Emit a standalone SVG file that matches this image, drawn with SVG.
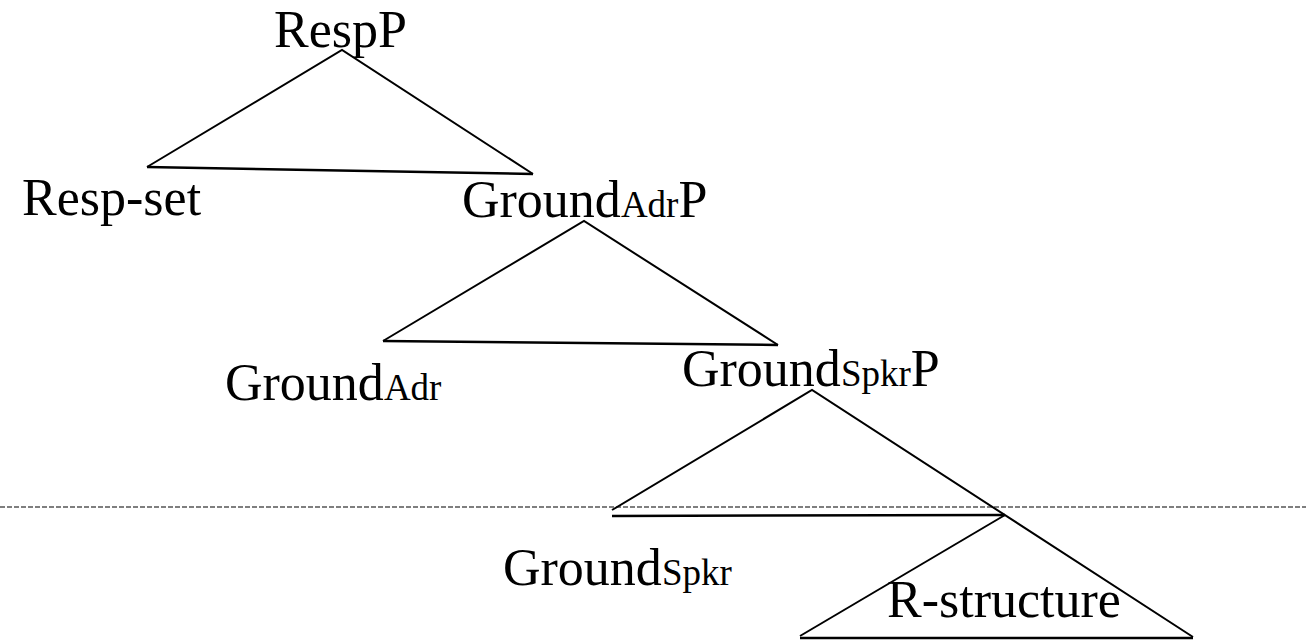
<svg xmlns="http://www.w3.org/2000/svg" width="1306" height="641" viewBox="0 0 1306 641">
<style>
text{font-family:'Liberation Serif','DejaVu Serif',serif;font-size:52px;fill:#000}
.sub{font-size:37px}
.edge{fill:none;stroke:#000;stroke-width:2;stroke-linejoin:miter}
.base{fill:none;stroke:#000;stroke-width:2.5}
.dash{stroke:#000;stroke-width:1.2;stroke-dasharray:5 2}
</style>
<rect width="1306" height="641" fill="#fff"/>
<g id="connectors">
<line class="dash" x1="0" y1="507" x2="1306" y2="507"/>
<polyline class="edge" points="147,167 342,50 533,174"/>
<line class="base" x1="147" y1="167" x2="533" y2="174"/>
<polyline class="edge" points="383,341 584,221 778,345"/>
<line class="base" x1="383" y1="341" x2="778" y2="345"/>
<polyline class="edge" points="612,510 812,390 1193,637"/>
<line class="base" x1="612" y1="516" x2="1005" y2="515"/>
<line class="edge" x1="1005" y1="515" x2="800" y2="636"/>
<line class="base" x1="800" y1="638" x2="1193" y2="638"/>
</g>
<g id="n-RespP"><text x="274" y="47">RespP</text></g>
<g id="n-Resp-set"><text x="22" y="215">Resp-set</text></g>
<g id="n-GroundAdrP"><text x="462" y="217">Ground<tspan class="sub">Adr</tspan>P</text></g>
<g id="n-GroundAdr"><text x="225" y="400">Ground<tspan class="sub">Adr</tspan></text></g>
<g id="n-GroundSpkrP"><text x="682" y="386">Ground<tspan class="sub">Spkr</tspan>P</text></g>
<g id="n-GroundSpkr"><text x="503" y="585">Ground<tspan class="sub">Spkr</tspan></text></g>
<g id="n-R-structure"><text x="887" y="617">R-structure</text></g>
</svg>
